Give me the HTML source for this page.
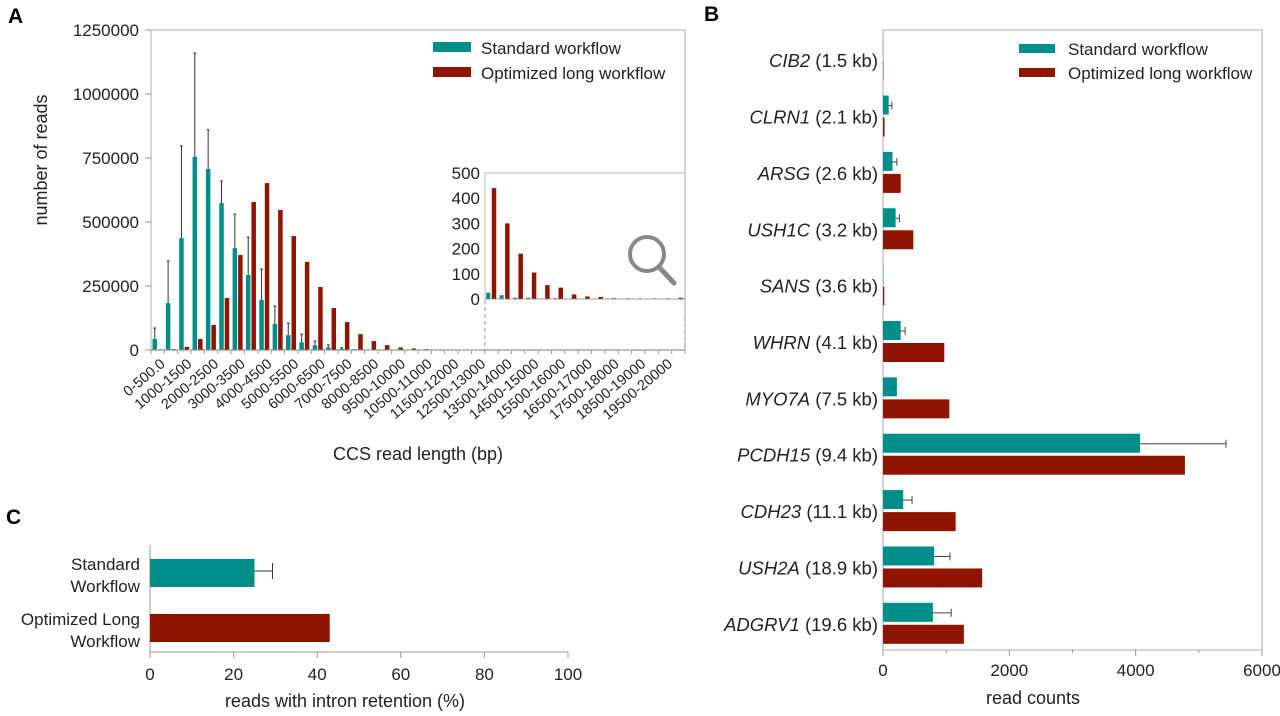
<!DOCTYPE html>
<html><head><meta charset="utf-8"><style>
body{margin:0;background:#fff;}
svg{display:block;font-family:"Liberation Sans",Arial,sans-serif;}
</style></head><body>
<svg id="fig" width="1280" height="716" viewBox="0 0 1280 716" xmlns="http://www.w3.org/2000/svg">
<text x="8" y="23" font-size="21" font-weight="bold">A</text>
<text x="704" y="21" font-size="21" font-weight="bold">B</text>
<text x="6" y="524" font-size="21" font-weight="bold">C</text>
</svg>
<script>
const binLabels=["0-500.0","1000-1500","2000-2500","3000-3500","4000-4500","5000-5500","6000-6500","7000-7500","8000-8500","9500-10000","10500-11000","11500-12000","12500-13000","13500-14000","14500-15000","15500-16000","16500-17000","17500-18000","18500-19000","19500-20000"];
const stdReads=[43000,183000,437000,754000,707000,574000,398000,293000,195000,102000,58000,30000,18000,10000,5000,3000,1500,1000,800,500,300,200,100,100,50,25,15,5,5,2,3,1,1,1,1,0,0,0,0,0];
const stdErr=[86000,348000,797000,1160000,860000,660000,531000,441000,316000,172000,105000,62000,35000,20000,9000,5000,3000,2000,1000,800,500,300,200,100,80,40,25,8,8,4,5,2,2,2,2,0,0,0,0,0];
const optReads=[2000,3000,12000,43000,98000,203000,371000,578000,652000,547000,445000,344000,246000,164000,109000,62000,35000,19000,10000,6000,3000,1500,1000,700,500,440,300,180,105,55,45,18,10,8,3,2,2,2,2,5];
const yTicksA=[0,250000,500000,750000,1000000,1250000];
const insetTicks=[0,100,200,300,400,500];
const genes=["CIB2","CLRN1","ARSG","USH1C","SANS","WHRN","MYO7A","PCDH15","CDH23","USH2A","ADGRV1"];
const geneSizes=["(1.5 kb)","(2.1 kb)","(2.6 kb)","(3.2 kb)","(3.6 kb)","(4.1 kb)","(7.5 kb)","(9.4 kb)","(11.1 kb)","(18.9 kb)","(19.6 kb)"];
const geneStd=[3,90,150,200,5,280,220,4070,320,810,790];
const geneStdErr=[5,140,220,260,8,350,235,5430,460,1060,1080];
const geneOpt=[5,25,280,480,20,970,1050,4780,1150,1570,1280];
const xTicksB=[0,2000,4000,6000];
const cCats=["Standard|Workflow","Optimized Long|Workflow"];
const cVals=[25,43];
const cErr=[29.3,null];
const xTicksC=[0,20,40,60,80,100];

const TEAL="#008e8a",RED="#8f1500",NS="http://www.w3.org/2000/svg";
const svg=document.getElementById('fig');
function el(t,a,p){const e=document.createElementNS(NS,t);for(const k in a)e.setAttribute(k,a[k]);(p||svg).appendChild(e);return e;}
function txt(x,y,s,a,p){const e=el('text',Object.assign({x:x,y:y},a),p);e.textContent=s;return e;}

// ---- Panel A ----
const ax0=151,ax1=685,ay0=350,ay1=30,N=40,bw=(ax1-ax0)/N;
const yA=v=>ay0-(v/1250000)*(ay0-ay1);
const xA=i=>ax0+i*bw;
let r=el('rect',{x:ax0,y:ay1,width:ax1-ax0,height:ay0-ay1,fill:'none',stroke:'#bbb','stroke-width':1.2});

yTicksA.forEach(v=>{
  el('line',{x1:ax0-6,x2:ax0,y1:yA(v),y2:yA(v),stroke:'#999'});
  const t=txt(ax0-12,yA(v)+6,String(v),{'font-size':17,'text-anchor':'end',fill:'#222'});
  
});
stdReads.forEach((v,i)=>{
  const x=xA(i)+1.5,w=4.5;
  const b=el('rect',{x:x,y:yA(v),width:w,height:ay0-yA(v),fill:TEAL});
  
  if(stdErr[i]>v+3000){el('line',{x1:x+w/2,x2:x+w/2,y1:yA(v),y2:yA(stdErr[i]),stroke:'#333','stroke-width':1});
  el('line',{x1:x+w/2-1.5,x2:x+w/2+1.5,y1:yA(stdErr[i]),y2:yA(stdErr[i]),stroke:'#333','stroke-width':1});}
  const o=optReads[i];
  const b2=el('rect',{x:xA(i)+7,y:yA(o),width:4.5,height:ay0-yA(o),fill:RED});
  
});
el('line',{x1:ax0,x2:ax1,y1:ay0,y2:ay0,stroke:'#999','stroke-width':1.5,'stroke-dasharray':'2,2'});
for(let i=0;i<=N;i++){el('line',{x1:xA(i),x2:xA(i),y1:ay0,y2:ay0+4,stroke:'#999'});}
binLabels.forEach((s,k)=>{
  const x=xA(2*k)+bw*0.6,y=ay0+7;
  const t=txt(x,y,s,{'font-size':14.5,'text-anchor':'end',transform:`rotate(-40 ${x} ${y})`,fill:'#222',dy:'0.75em'});
  
});
let tA=txt(418,460,'CCS read length (bp)',{'font-size':18,'text-anchor':'middle',fill:'#222'});

let tyA=txt(0,0,'number of reads',{'font-size':18,'text-anchor':'middle',transform:'translate(47,160) rotate(-90)',fill:'#222'});

// legend A
[[TEAL,'Standard workflow',48],[RED,'Optimized long workflow',73]].forEach(([c,s,y])=>{
  el('rect',{x:433,y:y-6,width:38,height:10,fill:c});
  const t=txt(481,y+6,s,{'font-size':17,fill:'#222'});
  
});
// inset
const ix0=485,ix1=685,iy0=299,iy1=173,i0=25;
const yI=v=>iy0-(v/500)*(iy0-iy1);
el('rect',{x:ix0,y:iy1,width:ix1-ix0,height:iy0-iy1,fill:'none',stroke:'#bbb'});
el('rect',{x:ix0,y:iy0,width:ix1-ix0,height:ay0-iy0,fill:'none',stroke:'#999','stroke-dasharray':'4,3'});
insetTicks.forEach(v=>{
  const t=txt(ix0-5,yI(v)+6,String(v),{'font-size':17,'text-anchor':'end',fill:'#222'});
  
});
for(let i=i0;i<N;i++){
  const x=xA(i);
  const b=el('rect',{x:x+1.5,y:yI(stdReads[i]),width:4,height:iy0-yI(stdReads[i]),fill:TEAL});
  
  const b2=el('rect',{x:x+7,y:yI(optReads[i]),width:4.5,height:iy0-yI(optReads[i]),fill:RED});
  
}
el('line',{x1:ix0,x2:ix1,y1:iy0,y2:iy0,stroke:'#999','stroke-dasharray':'2,2'});
const mag=el('g',{});
el('circle',{cx:647,cy:254,r:17,fill:'none',stroke:'#888','stroke-width':4},mag);
el('line',{x1:659,y1:267,x2:674,y2:283,stroke:'#888','stroke-width':5,'stroke-linecap':'round'},mag);

// ---- Panel B ----
const bx0=883,bx1=1262,by0=30,by1=650;
const xB=v=>bx0+v/6000*(bx1-bx0);
el('rect',{x:bx0,y:by0,width:bx1-bx0,height:by1-by0,fill:'none',stroke:'#bbb','stroke-width':1.2});
for(let v=0;v<=6000;v+=1000)el('line',{x1:xB(v),x2:xB(v),y1:by1,y2:by1+(v%2000?3:6),stroke:'#999'});
xTicksB.forEach(v=>{const t=txt(xB(v),by1+26,String(v),{'font-size':17,'text-anchor':'middle',fill:'#222'});
  });
let tB=txt(1033,704,'read counts',{'font-size':18,'text-anchor':'middle',fill:'#222'});

genes.forEach((g,i)=>{
  const cy=by0+ (by1-by0)*(i+0.5)/genes.length +2;
  const t=txt(878,cy+7,'',{'font-size':18.5,'text-anchor':'end',fill:'#222'});
  
  const a=el('tspan',{'font-style':'italic'},t);a.textContent=g;
  const b=el('tspan',{},t);b.textContent=' '+geneSizes[i];
  const s=el('rect',{x:bx0,y:cy-21,width:xB(geneStd[i])-bx0,height:19,fill:TEAL});
  
  if(geneStdErr[i]>geneStd[i]+20){el('line',{x1:xB(geneStd[i]),x2:xB(geneStdErr[i]),y1:cy-11,y2:cy-11,stroke:'#444'});
    el('line',{x1:xB(geneStdErr[i]),x2:xB(geneStdErr[i]),y1:cy-15,y2:cy-7,stroke:'#444'});}
  const o=el('rect',{x:bx0,y:cy+1,width:xB(geneOpt[i])-bx0,height:19,fill:RED});
  
});
[[TEAL,'Standard workflow',49],[RED,'Optimized long workflow',73]].forEach(([c,s,y])=>{
  el('rect',{x:1019,y:y-5,width:36,height:9,fill:c});
  const t=txt(1068,y+6,s,{'font-size':17,fill:'#222'});
  
});

// ---- Panel C ----
const cx0=150,cx1=568,cy0=545,cy1=652;
const xC=v=>cx0+v/100*(cx1-cx0);
el('line',{x1:cx0,x2:cx0,y1:cy0,y2:cy1+6,stroke:'#999'});
el('line',{x1:cx0,x2:cx1,y1:cy1,y2:cy1,stroke:'#999'});
xTicksC.forEach(v=>{el('line',{x1:xC(v),x2:xC(v),y1:cy1,y2:cy1+6,stroke:'#999'});
  const t=txt(xC(v),cy1+28,String(v),{'font-size':17,'text-anchor':'middle',fill:'#222'});
  });
let tC=txt(345,707,'reads with intron retention (%)',{'font-size':18,'text-anchor':'middle',fill:'#222'});

const cTops=[559,614];
cCats.forEach((c,i)=>{
  const y=cTops[i];
  const b=el('rect',{x:cx0,y:y,width:xC(cVals[i])-cx0,height:28,fill:i?RED:TEAL});
  
  if(cErr[i]){el('line',{x1:xC(cVals[i]),x2:xC(cErr[i]),y1:y+12,y2:y+12,stroke:'#333'});
    el('line',{x1:xC(cErr[i]),x2:xC(cErr[i]),y1:y+4,y2:y+20,stroke:'#333'});}
  const [l1,l2]=c.split('|');
  const t1=txt(140,y+11,l1,{'font-size':17,'text-anchor':'end',fill:'#222'});
  
  const t2=txt(140,y+33,l2,{'font-size':17,'text-anchor':'end',fill:'#222'});
  
});
</script>
</body></html>
